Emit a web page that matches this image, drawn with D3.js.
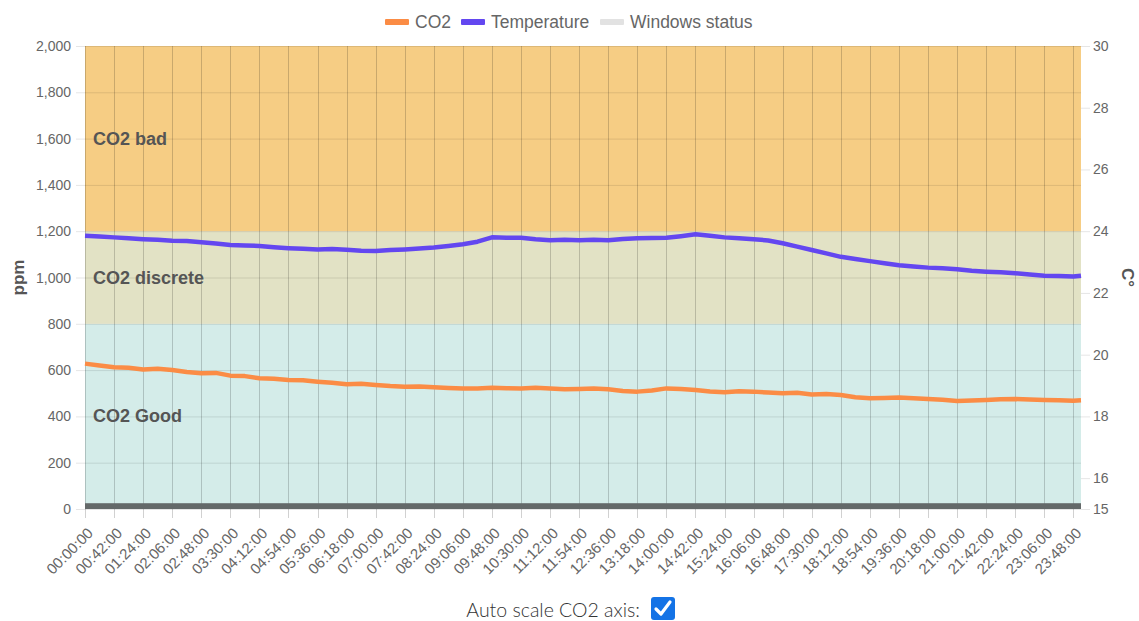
<!DOCTYPE html>
<html>
<head>
<meta charset="utf-8">
<script src="https://cdn.jsdelivr.net/npm/d3@7"></script>
<style>
  body { margin: 0; background: #fff; }
  svg { display: block; font-family: "Liberation Sans", Arial, sans-serif; }
</style>
</head>
<body>
<svg id="chart" width="1139" height="621"></svg>
<script>
var MARGIN_LEFT = 85, MARGIN_RIGHT = 1081, PLOT_TOP = 46, PLOT_BOTTOM = 509;

// sample times (every 21 minutes, last one at 23:59)
var sampleTimes = ["00:00","00:21","00:42","01:03","01:24","01:45","02:06","02:27","02:48","03:09",
  "03:30","03:51","04:12","04:33","04:54","05:15","05:36","05:57","06:18","06:39",
  "07:00","07:21","07:42","08:03","08:24","08:45","09:06","09:27","09:48","10:09",
  "10:30","10:51","11:12","11:33","11:54","12:15","12:36","12:57","13:18","13:39",
  "14:00","14:21","14:42","15:03","15:24","15:45","16:06","16:27","16:48","17:09",
  "17:30","17:51","18:12","18:33","18:54","19:15","19:36","19:57","20:18","20:39",
  "21:00","21:21","21:42","22:03","22:24","22:45","23:06","23:27","23:48","23:59"];

var co2Values = [628,620,612,610,603,606,600,592,586,588,
  576,574,565,563,557,556,550,545,539,541,
  536,531,528,529,526,523,521,520,524,522,
  521,524,521,517,518,520,517,510,507,512,
  521,518,514,508,504,509,507,503,500,502,
  495,497,492,483,478,480,482,478,475,472,
  467,469,471,474,475,473,471,470,468,470];

var temperatureValues = [23.85,23.83,23.80,23.77,23.74,23.72,23.69,23.68,23.64,23.60,
  23.55,23.54,23.52,23.48,23.45,23.43,23.41,23.42,23.40,23.37,
  23.36,23.39,23.41,23.44,23.47,23.52,23.58,23.66,23.80,23.79,
  23.79,23.74,23.71,23.72,23.71,23.72,23.71,23.75,23.77,23.78,
  23.79,23.84,23.90,23.85,23.80,23.77,23.74,23.70,23.61,23.50,
  23.39,23.28,23.17,23.10,23.03,22.96,22.90,22.86,22.82,22.80,
  22.77,22.72,22.69,22.67,22.64,22.60,22.56,22.55,22.53,22.56];

// windows status periods (closed all day)
var windowPeriods = [{start: "00:00", end: "23:59", level: 25}];

// x tick labels every 42 minutes
var xTickLabels = ["00:00:00","00:42:00","01:24:00","02:06:00","02:48:00","03:30:00","04:12:00",
  "04:54:00","05:36:00","06:18:00","07:00:00","07:42:00","08:24:00","09:06:00","09:48:00",
  "10:30:00","11:12:00","11:54:00","12:36:00","13:18:00","14:00:00","14:42:00","15:24:00",
  "16:06:00","16:48:00","17:30:00","18:12:00","18:54:00","19:36:00","20:18:00","21:00:00",
  "21:42:00","22:24:00","23:06:00","23:48:00"];

var co2Ticks = [0,200,400,600,800,1000,1200,1400,1600,1800,2000];
var tempTicks = [15,16,18,20,22,24,26,28,30];

var co2Zones = [
  {label: "CO2 Good", from: 0, to: 800, color: "#d4ece9"},
  {label: "CO2 discrete", from: 800, to: 1200, color: "#e2e2c5"},
  {label: "CO2 bad", from: 1200, to: 2000, color: "#f6cd84"}
];

var legendItems = [
  {label: "CO2", color: "#fb8c45"},
  {label: "Temperature", color: "#6347f0"},
  {label: "Windows status", color: "#e2e2e2"}
];

function toMinutes(t) {
  var p = t.split(":");
  return (+p[0]) * 60 + (+p[1]);
}

var svg = d3.select("#chart");

var x = d3.scaleLinear().domain([0, 1439]).range([MARGIN_LEFT, MARGIN_RIGHT]);
var yCo2 = d3.scaleLinear().domain([0, 2000]).range([PLOT_BOTTOM, PLOT_TOP]);
var yTemp = d3.scaleLinear().domain([15, 30]).range([PLOT_BOTTOM, PLOT_TOP]);

//background zones
svg.selectAll(".zone")
  .data(co2Zones)
  .enter()
  .append("rect")
  .attr("class","zone")
  .attr("x", MARGIN_LEFT)
  .attr("width", MARGIN_RIGHT - MARGIN_LEFT)
  .attr("y", function(d) { return yCo2(d.to) })
  .attr("height", function(d) { return yCo2(d.from) - yCo2(d.to) })
  .attr("fill", function(d) { return d.color });

//horizontal grid (extends a bit left as tick marks)
svg.selectAll(".hgrid")
  .data(co2Ticks)
  .enter()
  .append("line")
  .attr("x1", MARGIN_LEFT - 9).attr("x2", MARGIN_RIGHT)
  .attr("y1", function(d) { return yCo2(d) + 0.5 })
  .attr("y2", function(d) { return yCo2(d) + 0.5 })
  .attr("stroke", "rgba(0,0,0,0.1)");

//vertical grid and x ticks
svg.selectAll(".vgrid")
  .data(xTickLabels)
  .enter()
  .append("line")
  .attr("x1", function(d) { return Math.round(x(toMinutes(d))) + 0.5 })
  .attr("x2", function(d) { return Math.round(x(toMinutes(d))) + 0.5 })
  .attr("y1", PLOT_TOP).attr("y2", PLOT_BOTTOM + 9)
  .attr("stroke", "rgba(0,0,0,0.18)");

//right tick marks
svg.selectAll(".rtick")
  .data(tempTicks)
  .enter()
  .append("line")
  .attr("x1", MARGIN_RIGHT).attr("x2", MARGIN_RIGHT + 9)
  .attr("y1", function(d) { return yTemp(d) + 0.5 })
  .attr("y2", function(d) { return yTemp(d) + 0.5 })
  .attr("stroke", "rgba(0,0,0,0.1)");

//zone labels, centred vertically in their zone
svg.selectAll(".zoneLabel")
  .data(co2Zones)
  .enter()
  .append("text")
  .attr("x", MARGIN_LEFT + 8)
  .attr("y", function(d) { return yCo2((d.from + d.to) / 2) + 6 })
  .text(function(d) { return d.label })
  .attr("font-size", 18).attr("font-weight", "bold").attr("fill", "#555");

//windows status
svg.selectAll(".window")
  .data(windowPeriods)
  .enter()
  .append("rect")
  .attr("x", function(d) { return x(toMinutes(d.start)) })
  .attr("width", function(d) { return x(toMinutes(d.end)) - x(toMinutes(d.start)) })
  .attr("y", function(d) { return yCo2(d.level) })
  .attr("height", function(d) { return yCo2(0) - yCo2(d.level) })
  .attr("fill", "#646969");

//lines
var co2Line = d3.line()
  .x(function(d, i) { return x(toMinutes(sampleTimes[i])) })
  .y(function(d) { return yCo2(d) });
var tempLine = d3.line()
  .x(function(d, i) { return x(toMinutes(sampleTimes[i])) })
  .y(function(d) { return yTemp(d) });

svg.append("path").datum(co2Values)
  .attr("d", co2Line)
  .attr("fill", "none").attr("stroke", legendItems[0].color)
  .attr("stroke-width", 4.5).attr("stroke-linejoin", "round");
svg.append("path").datum(temperatureValues)
  .attr("d", tempLine)
  .attr("fill", "none").attr("stroke", legendItems[1].color)
  .attr("stroke-width", 4.5).attr("stroke-linejoin", "round");

//left axis labels
svg.selectAll(".co2Label")
  .data(co2Ticks)
  .enter()
  .append("text")
  .attr("x", MARGIN_LEFT - 14)
  .attr("y", function(d) { return yCo2(d) + 5 })
  .attr("text-anchor", "end")
  .attr("font-size", 14).attr("fill", "#666")
  .text(function(d) { return d3.format(",")(d) });

//right axis labels
svg.selectAll(".tempLabel")
  .data(tempTicks)
  .enter()
  .append("text")
  .attr("x", MARGIN_RIGHT + 12)
  .attr("y", function(d) { return yTemp(d) + 5 })
  .attr("font-size", 14).attr("fill", "#666")
  .text(function(d) { return d });

//x labels (rotated)
svg.selectAll(".xLabel")
  .data(xTickLabels)
  .enter()
  .append("text")
  .attr("transform", function(d) { return "translate(" + (x(toMinutes(d)) + 9) + "," + (PLOT_BOTTOM + 25) + ") rotate(-45)" })
  .attr("text-anchor", "end")
  .attr("font-size", 15).attr("fill", "#666")
  .text(function(d) { return d });

//axis titles
svg.append("text")
  .attr("transform", "translate(24," + ((PLOT_TOP + PLOT_BOTTOM) / 2) + ") rotate(-90)")
  .attr("text-anchor", "middle")
  .attr("font-size", 17).attr("font-weight", "bold").attr("fill", "#555")
  .text("ppm");
svg.append("text")
  .attr("transform", "translate(1122," + ((PLOT_TOP + PLOT_BOTTOM) / 2) + ") rotate(90)")
  .attr("text-anchor", "middle")
  .attr("font-size", 17).attr("font-weight", "bold").attr("fill", "#555")
  .text("C°");

//legend
var legendX = [385, 461, 600];
var legend = svg.selectAll(".legend")
  .data(legendItems)
  .enter()
  .append("g")
  .attr("transform", function(d, i) { return "translate(" + legendX[i] + ",22)" });
legend.append("rect")
  .attr("x", 0).attr("y", -3).attr("width", 24).attr("height", 6).attr("rx", 1)
  .attr("fill", function(d) { return d.color });
legend.append("text")
  .attr("x", 30).attr("y", 6)
  .attr("font-size", 17.5).attr("fill", "#666")
  .text(function(d) { return d.label });

//auto scale checkbox
svg.append("text")
  .attr("x", 640).attr("y", 617)
  .attr("text-anchor", "end")
  .attr("font-family", "Lato, 'Open Sans', sans-serif")
  .attr("font-size", 19.5).attr("font-weight", 300).attr("fill", "#333")
  .text("Auto scale CO2 axis:");
svg.append("rect")
  .attr("x", 651).attr("y", 597).attr("width", 24).attr("height", 23).attr("rx", 3)
  .attr("fill", "#1473e6");
svg.append("path")
  .attr("d", "M656,609 L661,614 L670,602")
  .attr("fill", "none").attr("stroke", "#fff").attr("stroke-width", 3.2)
  .attr("stroke-linecap", "round").attr("stroke-linejoin", "round");
</script>
</body>
</html>
